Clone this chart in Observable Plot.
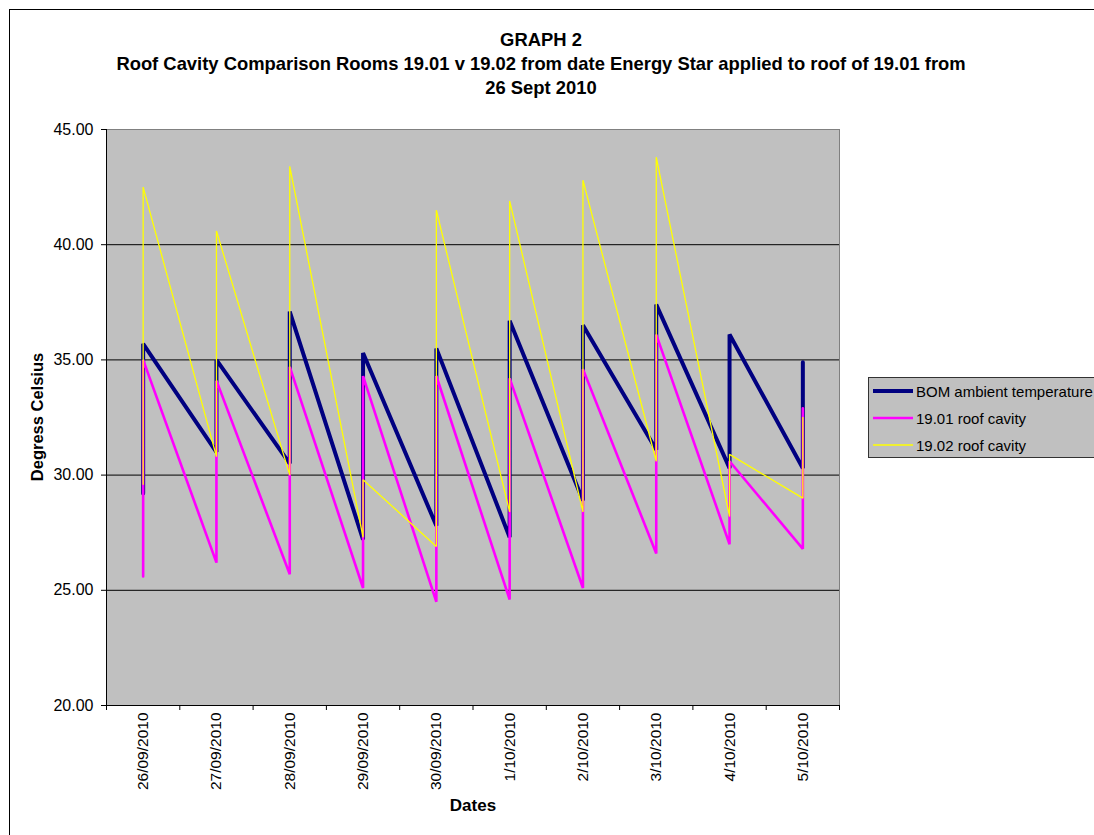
<!DOCTYPE html>
<html>
<head>
<meta charset="utf-8">
<script src="https://cdn.jsdelivr.net/npm/d3@7"></script>
<script src="https://cdn.jsdelivr.net/npm/@observablehq/plot@0.6"></script>
<style>
  html, body { margin: 0; padding: 0; background: #fff; overflow: hidden; }
  #wrap { position: relative; width: 1094px; height: 835px; overflow: hidden; background: #fff;
          font-family: "Liberation Sans", Arial, sans-serif; color: #000; }
  .abs { position: absolute; white-space: nowrap; }
  #title { left: 0; top: 28px; width: 1082px; text-align: center; font-weight: bold; font-size: 18.4px; line-height: 24px; }
  #ylab { left: 37px; top: 417px; transform: translate(-50%, -50%) rotate(-90deg); font-weight: bold; font-size: 16.5px; }
  #xlab { left: 473px; top: 806px; transform: translate(-50%, -50%); font-weight: bold; font-size: 17px; }
  #bTop { left: 9px; top: 9px; width: 1085px; height: 1px; background: #000; }
  #bLeft { left: 9px; top: 9px; width: 1px; height: 826px; background: #000; }
  #legend { left: 868px; top: 377px; width: 226px; height: 79px; background: #C0C0C0;
            border-top: 1px solid #333; border-left: 1px solid #333; border-bottom: 1px solid #333; }
  .row { position: absolute; left: 0; height: 20px; display: flex; align-items: center; font-size: 15px; }
  .row svg { margin-left: 4px; margin-right: 3px; }
</style>
</head>
<body>
<div id="wrap">
  <div id="chart" class="abs" style="left:0;top:0"></div>
  <div id="bTop" class="abs"></div>
  <div id="bLeft" class="abs"></div>
  <div id="title" class="abs"></div>
  <div id="ylab" class="abs"></div>
  <div id="xlab" class="abs"></div>
  <div id="legend" class="abs"></div>
</div>
<script>
// ---- data ----
const dates = ["26/09/2010", "27/09/2010", "28/09/2010", "29/09/2010", "30/09/2010",
               "1/10/2010", "2/10/2010", "3/10/2010", "4/10/2010", "5/10/2010"];
const bomLow    = [29.2, 31.0, 30.5, 27.2, 27.8, 27.3, 28.9, 31.1, 30.3, 30.3];
const bomHigh   = [35.7, 35.0, 37.1, 35.3, 35.5, 36.7, 36.5, 37.4, 36.1, 34.9];
const r1901Low  = [25.6, 26.2, 25.7, 25.1, 24.5, 24.6, 25.1, 26.6, 27.0, 26.8];
const r1901High = [35.0, 34.1, 34.7, 34.3, 34.3, 34.2, 34.6, 36.1, 30.6, 32.9];
const r1902Low  = [29.6, 30.8, 30.0, 27.3, 26.9, 28.4, 28.4, 30.6, 28.2, 29.0];
const r1902High = [42.5, 40.6, 43.4, 29.8, 41.5, 41.9, 42.8, 43.8, 30.9, 32.5];
const yTicks = [20, 25, 30, 35, 40, 45];
const seriesNames = ["BOM ambient temperature", "19.01 roof cavity", "19.02 roof cavity"];
const titleLines = ["GRAPH 2",
  "Roof Cavity Comparison Rooms 19.01 v 19.02 from date Energy Star applied to roof of 19.01 from",
  "26 Sept 2010"];
const yTitle = "Degress Celsius";
const xTitle = "Dates";

// ---- styles ----
const colors = ["#000080", "#FF00FF", "#FFFF00"];
const widths = [4, 2.6, 1.3];
const lows = [bomLow, r1901Low, r1902Low];
const highs = [bomHigh, r1901High, r1902High];

const rows = k => dates.flatMap((d, i) => [{i, v: lows[k][i]}, {i, v: highs[k][i]}]);

const chart = Plot.plot({
  width: 1094, height: 835,
  marginLeft: 106, marginRight: 255, marginTop: 129, marginBottom: 130,
  style: {fontFamily: "Liberation Sans, Arial, sans-serif", fontSize: "15px", color: "#000",
          background: "transparent", overflow: "hidden"},
  x: {type: "linear", domain: [-0.5, dates.length - 0.5], axis: null},
  y: {domain: [yTicks[0], yTicks[yTicks.length - 1]], axis: null},
  marks: [
    Plot.frame({fill: "#C0C0C0", stroke: "#808080"}),
    Plot.ruleY(yTicks.slice(1, -1), {stroke: "#000", strokeWidth: 1}),
    ...[0, 1, 2].map(k => Plot.line(rows(k), {x: "i", y: "v", stroke: colors[k], strokeWidth: widths[k], strokeLinejoin: "bevel"})),
    Plot.ruleY([yTicks[0]], {stroke: "#000"}),
    Plot.ruleX([-0.5], {stroke: "#000"}),
    Plot.axisY({ticks: yTicks, tickFormat: d => d.toFixed(2), tickSize: 5, tickPadding: 8, fontSize: 16, label: null}),
    Plot.axisX({ticks: d3.range(dates.length + 1).map(i => i - 0.5), tickFormat: () => "", tickSize: 5, label: null}),
    Plot.axisX({ticks: d3.range(dates.length), tickFormat: i => dates[i], tickRotate: -90, tickSize: 0, tickPadding: 7, fontSize: 15.5, label: null})
  ]
});
document.getElementById("chart").appendChild(chart);

document.getElementById("title").innerHTML = titleLines.map(t => `<div>${t}</div>`).join("");
document.getElementById("ylab").textContent = yTitle;
document.getElementById("xlab").textContent = xTitle;

const legend = document.getElementById("legend");
seriesNames.forEach((name, k) => {
  const row = document.createElement("div");
  row.className = "row";
  row.style.top = (3 + k * 27) + "px";
  row.innerHTML = `<svg width="40" height="20"><line x1="0" x2="40" y1="10" y2="10" stroke="${colors[k]}" stroke-width="${widths[k]}"/></svg><span>${name}</span>`;
  legend.appendChild(row);
});
</script>
</body>
</html>
